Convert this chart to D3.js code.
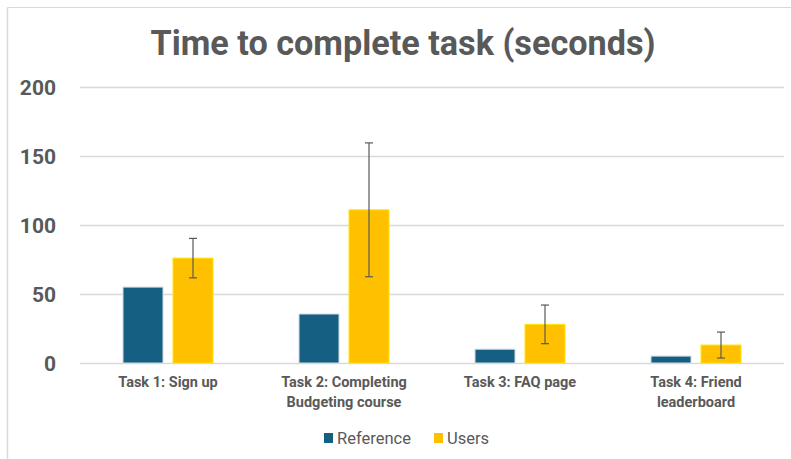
<!DOCTYPE html>
<html><head><meta charset="utf-8">
<script src="https://cdn.jsdelivr.net/npm/d3@7"></script>
<style>
html,body{margin:0;padding:0;background:#fff;}
svg{display:block;}
text{font-family:Roboto, "Noto Sans", sans-serif;}
</style></head>
<body>
<svg id="chart" width="791" height="459"></svg>
<script>
const categories = [["Task 1: Sign up"], ["Task 2: Completing", "Budgeting course"], ["Task 3: FAQ page"], ["Task 4: Friend", "leaderboard"]];
const series = ["Reference", "Users"];
const referenceValues = [55, 35.5, 10, 5];
const usersValues = [76, 111, 28, 13];
const usersErrors = [14.3, 48.5, 14, 9.4];
const yTicks = [0, 50, 100, 150, 200];
const title = "Time to complete task (seconds)";

const W = 791, H = 459;
const svg = d3.select("#chart");
const grey = "#595959";
const colors = {Reference: "#156082", Users: "#FFC000"};
const strokes = {Reference: "#d0dbe2", Users: "#FFE500"};

// frame (top and left edges)
svg.append("line").attr("x1", 7.5).attr("x2", W).attr("y1", 7.5).attr("y2", 7.5).attr("stroke", "#d9d9d9").attr("stroke-width", 1);
svg.append("line").attr("x1", 7.5).attr("x2", 7.5).attr("y1", 7.5).attr("y2", H).attr("stroke", "#d9d9d9").attr("stroke-width", 1.5);

const y = d3.scaleLinear().domain([0, 200]).range([363, 87]);
const x0 = d3.scaleBand().domain(d3.range(categories.length)).range([80, 784]);
const bw = x0.bandwidth();
const barW = 40, gap = 10;
const x1 = d3.scaleBand().domain(series).range([bw/2 - barW - gap/2, bw/2 + barW + gap/2]).paddingInner(0.2);

// title
svg.append("text").attr("x", 403).attr("y", 55).attr("text-anchor", "middle")
  .attr("font-size", 34.2).attr("font-weight", 700).attr("fill", grey).text(title);

// gridlines
const yAxis = d3.axisLeft(y).tickValues(yTicks).tickSize(-(784 - 80)).tickPadding(24);
const gy = svg.append("g").attr("transform", "translate(80,0)").call(yAxis);
gy.select(".domain").remove();
gy.selectAll(".tick line").attr("stroke", "#d9d9d9").attr("stroke-width", 1.3);
gy.selectAll(".tick text").attr("fill", grey).attr("font-size", 21).attr("font-weight", 700)
  .attr("font-family", "Roboto, sans-serif").attr("dy", "0.35em");

// bars
const data = categories.map((c, i) => ({i, vals: [
  {s: "Reference", v: referenceValues[i]},
  {s: "Users", v: usersValues[i], e: usersErrors[i]}
]}));
const g = svg.selectAll(".grp").data(data).enter().append("g")
  .attr("transform", d => `translate(${x0(d.i)},0)`);
g.selectAll("rect").data(d => d.vals).enter().append("rect")
  .attr("x", d => x1(d.s)).attr("width", x1.bandwidth())
  .attr("y", d => y(d.v)).attr("height", d => y(0) - y(d.v))
  .attr("fill", d => colors[d.s]).attr("stroke", d => strokes[d.s]).attr("stroke-width", 1);

// error bars
const eb = g.selectAll(".err").data(d => d.vals.filter(v => v.e != null)).enter().append("g").attr("class", "err");
const cx = d => x1(d.s) + x1.bandwidth()/2;
eb.append("line").attr("x1", cx).attr("x2", cx).attr("y1", d => y(d.v + d.e)).attr("y2", d => y(d.v - d.e)).attr("stroke", grey).attr("stroke-width", 1.2);
eb.append("line").attr("x1", d => cx(d) - 4).attr("x2", d => cx(d) + 4).attr("y1", d => y(d.v + d.e)).attr("y2", d => y(d.v + d.e)).attr("stroke", grey).attr("stroke-width", 1.2);
eb.append("line").attr("x1", d => cx(d) - 4).attr("x2", d => cx(d) + 4).attr("y1", d => y(d.v - d.e)).attr("y2", d => y(d.v - d.e)).attr("stroke", grey).attr("stroke-width", 1.2);

// category labels
const lab = svg.selectAll(".cat").data(categories).enter().append("text")
  .attr("text-anchor", "middle").attr("fill", grey).attr("font-size", 14.5).attr("font-weight", 700)
  .attr("transform", (d, i) => `translate(${x0(i) + bw/2},387)`);
lab.selectAll("tspan").data(d => d).enter().append("tspan")
  .attr("x", 0).attr("dy", (d, j) => j === 0 ? 0 : 20).text(d => d);

// legend
const leg = svg.append("g").attr("transform", "translate(324,438)");
const legX = [0, 110];
series.forEach((s, i) => {
  leg.append("rect").attr("x", legX[i]).attr("y", -5).attr("width", 9).attr("height", 10).attr("fill", colors[s]);
  leg.append("text").attr("x", legX[i] + 13).attr("y", 0).attr("dy", "0.35em").attr("font-size", 16.5)
    .attr("fill", grey).text(s);
});
</script>
</body></html>
